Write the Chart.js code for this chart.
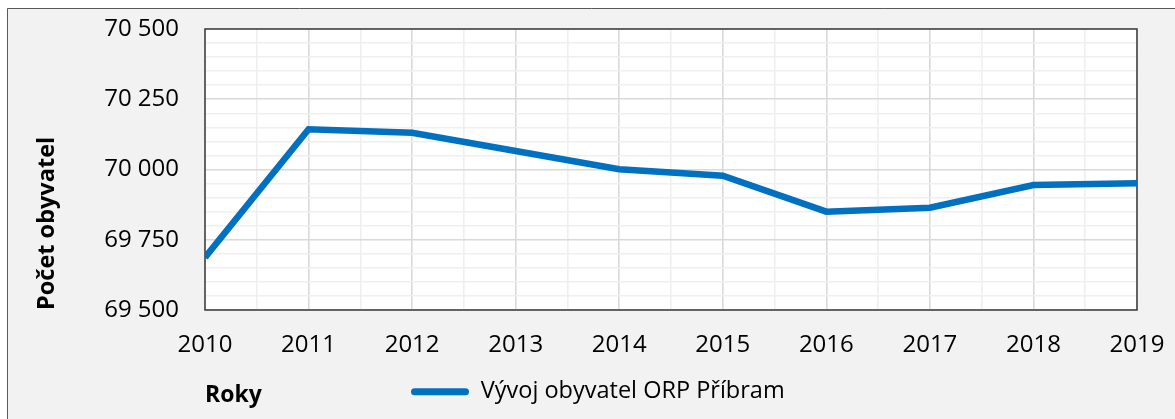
<!DOCTYPE html>
<html>
<head>
<meta charset="utf-8">
<script src="https://cdn.jsdelivr.net/npm/chart.js@4/dist/chart.umd.min.js"></script>
<style>
html,body{margin:0;padding:0;background:#fff;}
canvas{display:block;}
</style>
</head>
<body>
<canvas id="c" width="1175" height="419"></canvas>
<script>
const years = [2010, 2011, 2012, 2013, 2014, 2015, 2016, 2017, 2018, 2019];
const population = [69687, 70143, 70131, 70066, 70001, 69978, 69850, 69864, 69945, 69951];
const seriesName = 'Vývoj obyvatel ORP Příbram';
const yAxisTitle = 'Počet obyvatel';
const xAxisTitle = 'Roky';
const yMin = 69500, yMax = 70500, yMajor = 250, yMinor = 50;
const xMin = 2010, xMax = 2019;

const FONT = "'Open Sans', 'Noto Sans', sans-serif";
const lineColor = '#0070c0';

function fmt(v){
  const t = Math.floor(v/1000), r = String(v % 1000).padStart(3,'0');
  return t + ' ' + r;
}

const framePlugin = {
  id: 'frame',
  beforeDraw(chart){
    const ctx = chart.ctx, a = chart.chartArea;
    ctx.save();
    ctx.fillStyle = '#ffffff';
    ctx.fillRect(0,0,chart.width,chart.height);
    ctx.fillStyle = '#f2f2f2';
    ctx.fillRect(7,8,chart.width,chart.height);
    ctx.strokeStyle = '#595959';
    ctx.lineWidth = 1;
    ctx.beginPath();
    ctx.moveTo(7.5, chart.height); ctx.lineTo(7.5, 8.5); ctx.lineTo(chart.width, 8.5);
    ctx.stroke();
    ctx.fillStyle = '#ffffff';
    ctx.fillRect(a.left, a.top, a.right-a.left, a.bottom-a.top);
    ctx.restore();
  },
  beforeDatasetsDraw(chart){
    const ctx = chart.ctx, a = chart.chartArea;
    ctx.save();
    ctx.strokeStyle = '#3a3a3a';
    ctx.lineWidth = 1.5;
    ctx.strokeRect(a.left, a.top, a.right-a.left, a.bottom-a.top);
    ctx.restore();
  },
  afterLayout(chart){
    const lg = chart.legend;
    if (!lg) return;
    const w = lg.width, h = lg.height;
    lg.left = 401; lg.right = 401 + w;
    lg.top = 370; lg.bottom = 370 + h;
  }
};

new Chart(document.getElementById('c'), {
  type: 'line',
  data: {
    datasets: [{
      label: seriesName,
      data: years.map((yr,i)=>({x: yr, y: population[i]})),
      borderColor: lineColor,
      backgroundColor: lineColor,
      borderWidth: 6.5,
      pointRadius: 0,
      pointHoverRadius: 0,
      tension: 0,
      fill: false,
      clip: {left: 0, right: 2, top: 5, bottom: 5}
    }]
  },
  options: {
    responsive: false,
    animation: false,
    events: [],
    layout: { padding: { left: 0, top: 29, right: 38, bottom: 0 } },
    scales: {
      x: {
        type: 'linear',
        min: xMin, max: xMax,
        afterFit(s){ s.height = 109; s.paddingLeft = 0; s.paddingRight = 0; },
        ticks: {
          stepSize: 0.5,
          autoSkip: false,
          maxRotation: 0,
          padding: 21,
          color: '#000',
          font: { family: FONT, size: 24 },
          callback: v => Number.isInteger(v) ? String(v) : ''
        },
        grid: {
          drawTicks: false,
          color: c => (c.tick && Number.isInteger(c.tick.value)) ? '#d9d9d9' : '#efefef',
          lineWidth: 1.6
        },
        border: { display: false },
        title: {
          display: true, text: xAxisTitle, align: 'start',
          color: '#000',
          font: { family: FONT, size: 23, weight: 'bold', lineHeight: 1.2 },
          padding: { top: 0, bottom: 10 }
        }
      },
      y: {
        type: 'linear',
        min: yMin, max: yMax,
        afterFit(s){ s.width = 205; s.paddingTop = 0; s.paddingBottom = 0; },
        ticks: {
          stepSize: yMinor,
          maxTicksLimit: 100,
          autoSkip: false,
          padding: 26,
          color: '#000',
          font: { family: FONT, size: 24 },
          callback: v => (v % yMajor === 0) ? fmt(v) : ''
        },
        grid: {
          drawTicks: false,
          color: c => (c.tick && c.tick.value % yMajor === 0) ? '#d9d9d9' : '#efefef',
          lineWidth: 1.6
        },
        border: { display: false },
        title: {
          display: true, text: yAxisTitle, align: 'start',
          color: '#000',
          font: { family: FONT, size: 23.5, weight: 'bold', lineHeight: 1.2 },
          padding: { top: 33, bottom: 0 }
        }
      }
    },
    plugins: {
      tooltip: { enabled: false },
      legend: {
        display: true,
        position: 'chartArea',
        align: 'start',
        labels: {
          boxWidth: 58,
          boxHeight: 7,
          padding: 10,
          color: '#000',
          font: { family: FONT, size: 23.5 },
          generateLabels: () => [{
            text: seriesName, fillStyle: lineColor, strokeStyle: lineColor,
            lineWidth: 0, borderRadius: 3.5, hidden: false, datasetIndex: 0
          }]
        }
      }
    }
  },
  plugins: [framePlugin]
});
</script>
</body>
</html>
